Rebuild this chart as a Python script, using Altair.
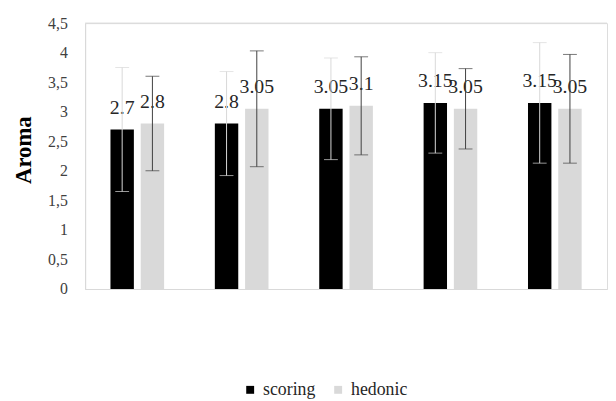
import altair as alt
import pandas as pd

groups = ["1", "2", "3", "4", "5"]
series_names = ["scoring", "hedonic"]
scoring = [2.7, 2.8, 3.05, 3.15, 3.15]
hedonic = [2.8, 3.05, 3.1, 3.05, 3.05]
scoring_sd = [1.05, 0.88, 0.86, 0.85, 1.02]
hedonic_sd = [0.80, 0.98, 0.83, 0.68, 0.92]
y_ticks = [0, 0.5, 1, 1.5, 2, 2.5, 3, 3.5, 4, 4.5]

rows = []
for i, g in enumerate(groups):
    for s, vals, sds in (("scoring", scoring, scoring_sd), ("hedonic", hedonic, hedonic_sd)):
        v = vals[i]
        sd = sds[i]
        rows.append({"group": g, "series": s, "value": v, "lo": v - sd, "hi": v + sd,
                     "label": f"{v:g}"})
df = pd.DataFrame(rows)

FONT = "Liberation Serif, Times New Roman, Times, serif"
GRID = "#d9d9d9"

x_scale = alt.Scale(paddingInner=0.486, paddingOuter=0.243)
x_axis = alt.Axis(labels=False, ticks=False, domain=True, domainColor=GRID,
                  title=None, grid=False)
y_axis = alt.Axis(values=y_ticks, grid=False, ticks=False, domain=True, domainColor=GRID,
                  labelExpr="replace(format(datum.value, '~g'), '.', ',')",
                  labelFont=FONT, labelFontSize=16, labelColor="#404040", labelPadding=18,
                  title="Aroma", titleFont=FONT, titleFontSize=23, titleFontWeight="bold",
                  titleColor="#000000", titlePadding=12, titleY=128)
y_scale = alt.Scale(domain=[0, 4.5], nice=False)


def X():
    return alt.X("group:N", sort=groups, scale=x_scale, axis=x_axis)


def Y(field):
    return alt.Y(field, scale=y_scale, axis=y_axis)


xoff = alt.XOffset("series:N", sort=series_names,
                   scale=alt.Scale(domain=series_names, paddingInner=0.226, paddingOuter=0))

base = alt.Chart(df)

bars = base.mark_bar().encode(
    x=X(), xOffset=xoff, y=Y("value:Q"),
    color=alt.Color("series:N", sort=series_names,
                    scale=alt.Scale(domain=series_names, range=["#000000", "#d9d9d9"]),
                    legend=alt.Legend(title=None, orient="none", legendX=158, legendY=362,
                                      direction="horizontal", symbolType="square",
                                      symbolSize=64, symbolStrokeWidth=0,
                                      labelFont=FONT, labelFontSize=18,
                                      labelColor="#262626", labelOffset=4,
                                      columnPadding=14, padding=0)),
)

labels = base.mark_text(font=FONT, fontSize=20, color="#262626", baseline="alphabetic",
                        dy=-16).encode(
    x=X(), xOffset=xoff, y=Y("value:Q"), text="label:N")

err_color = alt.Color("series:N", sort=series_names,
                      scale=alt.Scale(domain=series_names, range=["#d9d9d9", "#404040"]),
                      legend=None)

err_rule = base.mark_rule(strokeWidth=1).encode(
    x=X(), xOffset=xoff, y=Y("lo:Q"), y2="hi:Q", color=err_color)

cap_lo = base.mark_tick(size=14, thickness=1).encode(
    x=X(), xOffset=xoff, y=Y("lo:Q"), color=err_color)

cap_hi = base.mark_tick(size=14, thickness=1).encode(
    x=X(), xOffset=xoff, y=Y("hi:Q"), color=err_color)

top_line = alt.Chart(pd.DataFrame({"top": [max(y_ticks)]})).mark_rule(
    color=GRID, strokeWidth=1).encode(y=Y("top:Q"))

chart = alt.layer(bars, labels, err_rule, cap_lo, cap_hi, top_line).resolve_scale(
    color="independent"
).properties(
    width=528, height=269,
    padding={"left": 5, "top": 5, "right": 0, "bottom": 0},
).configure_view(stroke=None).configure(background="#ffffff")

chart.save("out.html", embed_options={"renderer": "svg", "actions": False})
